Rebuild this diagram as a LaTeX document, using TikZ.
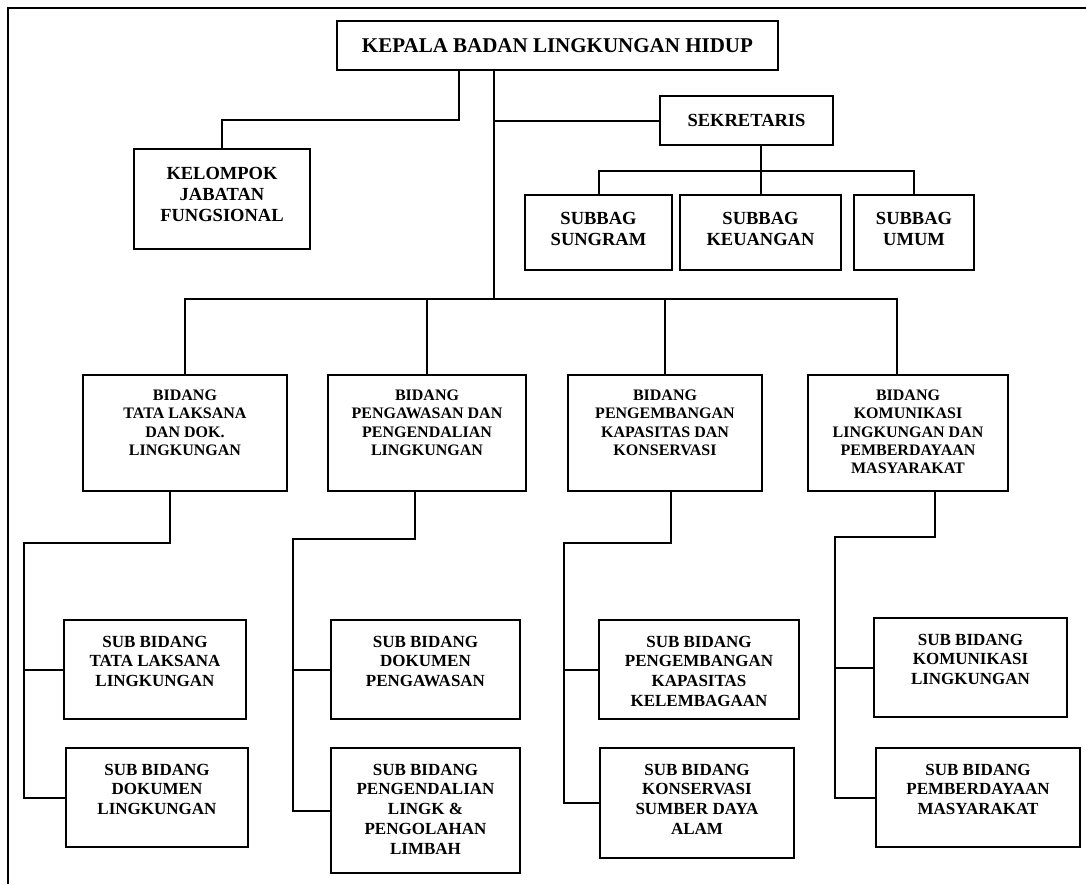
\documentclass[tikz,border=0pt]{standalone}
\usepackage{fontspec}
\setmainfont{Liberation Serif}
\usetikzlibrary{positioning}
\begin{document}
\begin{tikzpicture}[x=1pt, y=1pt, line width=2pt,
  box/.style={draw, rectangle, inner sep=0pt},
  txt/.style={inner sep=0pt, align=center},
  big/.style={font=\fontsize{21}{24}\selectfont\bfseries},
  upper/.style={font=\fontsize{18.5}{21.3}\selectfont\bfseries},
  bid/.style={font=\fontsize{16}{18.3}\selectfont\bfseries},
  sub/.style={font=\fontsize{17}{19.7}\selectfont\bfseries}]
  \useasboundingbox (0,0) rectangle (1086,-884);
  % frame
  \draw (1086,-8) -- (8,-8) -- (8,-884);

  % top
  \node[box, big, minimum width=441pt, minimum height=49pt] (KBLH) at (557.5,-45.5) {KEPALA BADAN LINGKUNGAN HIDUP};
  \node[box, minimum width=176pt, minimum height=100pt] (JF) at (222,-199) {};
  \node[txt, upper, below=18pt of JF.north] (JFt) {KELOMPOK\\JABATAN\\FUNGSIONAL};
  \node[box, upper, minimum width=173pt, minimum height=49pt] (SEK) at (746.5,-120.5) {SEKRETARIS};

  % subbag
  \node[box, minimum width=147pt, minimum height=75pt] (SUNG) at (598.5,-232.5) {};
  \node[txt, upper, below=17pt of SUNG.north] (SUNGt) {SUBBAG\\SUNGRAM};
  \node[box, minimum width=161pt, minimum height=75pt] (KEU) at (760.5,-232.5) {};
  \node[txt, upper, below=17pt of KEU.north] (KEUt) {SUBBAG\\KEUANGAN};
  \node[box, minimum width=120pt, minimum height=75pt] (UMUM) at (914,-232.5) {};
  \node[txt, upper, below=17pt of UMUM.north] (UMUMt) {SUBBAG\\UMUM};

  % bidang
  \node[box, minimum width=204pt, minimum height=116pt] (B1) at (185,-433) {};
  \node[txt, bid, below=15pt of B1.north] (B1t) {BIDANG\\TATA LAKSANA\\DAN DOK.\\LINGKUNGAN};
  \node[box, minimum width=198pt, minimum height=116pt] (B2) at (427,-433) {};
  \node[txt, bid, below=15pt of B2.north] (B2t) {BIDANG\\PENGAWASAN DAN\\PENGENDALIAN\\LINGKUNGAN};
  \node[box, minimum width=194pt, minimum height=116pt] (B3) at (665,-433) {};
  \node[txt, bid, below=15pt of B3.north] (B3t) {BIDANG\\PENGEMBANGAN\\KAPASITAS DAN\\KONSERVASI};
  \node[box, minimum width=200pt, minimum height=116pt] (B4) at (908,-433) {};
  \node[txt, bid, below=15pt of B4.north] (B4t) {BIDANG\\KOMUNIKASI\\LINGKUNGAN DAN\\PEMBERDAYAAN\\MASYARAKAT};

  % sub bidang
  \node[box, minimum width=182pt, minimum height=99pt] (S1a) at (155,-669.5) {};
  \node[txt, sub, below=16pt of S1a.north] (S1at) {SUB BIDANG\\TATA LAKSANA\\LINGKUNGAN};
  \node[box, minimum width=182pt, minimum height=99pt] (S1b) at (157,-797.5) {};
  \node[txt, sub, below=16pt of S1b.north] (S1bt) {SUB BIDANG\\DOKUMEN\\LINGKUNGAN};
  \node[box, minimum width=189pt, minimum height=99pt] (S2a) at (425.5,-669.5) {};
  \node[txt, sub, below=16pt of S2a.north] (S2at) {SUB BIDANG\\DOKUMEN\\PENGAWASAN};
  \node[box, minimum width=189pt, minimum height=125pt] (S2b) at (425.5,-810.5) {};
  \node[txt, sub, below=16pt of S2b.north] (S2bt) {SUB BIDANG\\PENGENDALIAN\\LINGK \&\\PENGOLAHAN\\LIMBAH};
  \node[box, minimum width=200pt, minimum height=99pt] (S3a) at (699,-669.5) {};
  \node[txt, sub, below=16pt of S3a.north] (S3at) {SUB BIDANG\\PENGEMBANGAN\\KAPASITAS\\KELEMBAGAAN};
  \node[box, minimum width=194pt, minimum height=110pt] (S3b) at (697,-803) {};
  \node[txt, sub, below=16pt of S3b.north] (S3bt) {SUB BIDANG\\KONSERVASI\\SUMBER DAYA\\ALAM};
  \node[box, minimum width=193pt, minimum height=99pt] (S4a) at (970.5,-667.5) {};
  \node[txt, sub, below=16pt of S4a.north] (S4at) {SUB BIDANG\\KOMUNIKASI\\LINGKUNGAN};
  \node[box, minimum width=204pt, minimum height=99pt] (S4b) at (978,-797.5) {};
  \node[txt, sub, below=16pt of S4b.north] (S4bt) {SUB BIDANG\\PEMBERDAYAAN\\MASYARAKAT};

  % lines from the top
  \coordinate (BUS) at (494,-299);
  \coordinate (JFk) at (459,-120);
  \coordinate (SB) at (0,-171);
  \draw (KBLH.south -| BUS) -- (BUS);
  \draw (KBLH.south -| JFk) -- (JFk) -| (JF.north);
  \draw (SEK.west -| BUS) -- (SEK.west);
  \draw (SEK.south -| KEU.north) -- (KEU.north);
  \draw (SUNG.north) |- (SB -| KEU.north) -| (UMUM.north);

  % bidang bus
  \draw (B1.north) |- (BUS) -| ([xshift=-11pt]B4.north);
  \draw (B2.north) -- (B2.north |- BUS);
  \draw (B3.north) -- (B3.north |- BUS);

  % bidang to sub bidang
  \coordinate (SP1) at (24,-543);
  \coordinate (SP2) at (293,-539);
  \coordinate (SP3) at (564,-543);
  \coordinate (SP4) at (835,-537);
  \draw ([xshift=-15pt]B1.south) |- (SP1) -- (SP1 |- S1b.west) -- (S1b.west);
  \draw (SP1 |- S1a.west) -- (S1a.west);
  \draw ([xshift=-12pt]B2.south) |- (SP2) -- (SP2 |- S2b.west) -- (S2b.west);
  \draw (SP2 |- S2a.west) -- (S2a.west);
  \draw ([xshift=6pt]B3.south) |- (SP3) -- (SP3 |- S3b.west) -- (S3b.west);
  \draw (SP3 |- S3a.west) -- (S3a.west);
  \draw ([xshift=27pt]B4.south) |- (SP4) -- (SP4 |- S4b.west) -- (S4b.west);
  \draw (SP4 |- S4a.west) -- (S4a.west);
\end{tikzpicture}
\end{document}
